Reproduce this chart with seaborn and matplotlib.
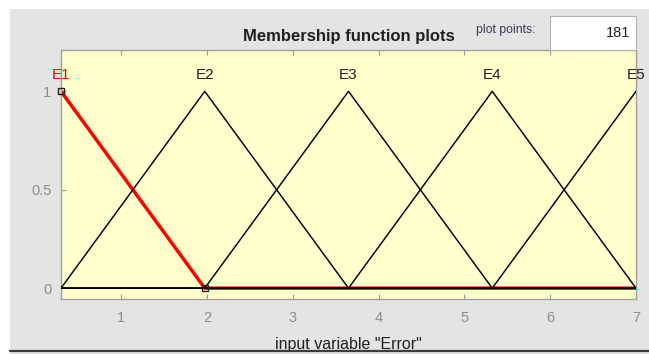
import numpy as np
import pandas as pd
import matplotlib
matplotlib.use("Agg")
import matplotlib.pyplot as plt
from matplotlib.patches import Rectangle
from matplotlib.lines import Line2D
import seaborn as sns

sns.set_theme(style="white")
plt.rcParams["font.family"] = ["Liberation Sans", "DejaVu Sans"]

# Fuzzy input variable "Error": triangular membership functions [a, b, c]
mf_names = ["E1", "E2", "E3", "E4", "E5"]
mf_a = [-1.375, 0.3, 1.975, 3.65, 5.325]
mf_b = [0.3, 1.975, 3.65, 5.325, 7.0]
mf_c = [1.975, 3.65, 5.325, 7.0, 8.675]
x_range = [0.3, 7.0]
plot_points = 181
selected = "E1"

x_ticks = [1, 2, 3, 4, 5, 6, 7]
y_ticks = [0, 0.5, 1]
y_tick_labels = ["0", "0.5", "1"]

xs = np.linspace(x_range[0], x_range[1], plot_points)
frames = []
for name, a, b, c in zip(mf_names, mf_a, mf_b, mf_c):
    left = (xs - a) / (b - a)
    right = (c - xs) / (c - b)
    mu = np.clip(np.minimum(left, right), 0, 1)
    frames.append(pd.DataFrame({"x": xs, "mu": mu, "mf": name}))
df = pd.concat(frames, ignore_index=True)

W, H = 649, 354
fig = plt.figure(figsize=(W / 100, H / 100), dpi=100, facecolor="white")

# panel background
fig.add_artist(Rectangle((10 / W, 0), 1 - 10 / W, (H - 9) / H,
                         transform=fig.transFigure, facecolor="#e4e4e4",
                         edgecolor="none", zorder=0))

ax = fig.add_axes([61 / W, (H - 299) / H, 575 / W, 249 / H])
ax.set_facecolor("#ffffcc")

# selected function underneath, the others on top
sel = df[df["mf"] == selected]
sns.lineplot(data=sel, x="x", y="mu", color="#ff0000", linewidth=2.5,
             ax=ax, zorder=2, legend=False)
others = df[df["mf"] != selected]
sns.lineplot(data=others, x="x", y="mu", units="mf", estimator=None,
             color="black", linewidth=1.05, ax=ax, zorder=3, legend=False)

# vertex markers of the selected function
i = mf_names.index(selected)
vx = [v for v in (mf_a[i], mf_b[i], mf_c[i]) if x_range[0] <= v <= x_range[1]]
vy = [np.clip(min((v - mf_a[i]) / (mf_b[i] - mf_a[i]),
                  (mf_c[i] - v) / (mf_c[i] - mf_b[i])), 0, 1) for v in vx]
ax.plot(vx, vy, linestyle="none", marker="s", markersize=4.5,
        markerfacecolor="none", markeredgecolor="#202020",
        markeredgewidth=1.0, zorder=4, clip_on=False)

for name, b in zip(mf_names, mf_b):
    ax.text(b, 1.085, name, ha="center", va="center", fontsize=11,
            color="#ff0000" if name == selected else "#202020", zorder=5)

ax.set_xlim(*x_range)
ax.set_ylim(-0.055, 1.21)
ax.set_xticks(x_ticks)
ax.set_xticklabels([str(t) for t in x_ticks])
ax.set_yticks(y_ticks)
ax.set_yticklabels(y_tick_labels)
ax.tick_params(axis="both", direction="in", length=3.8, width=0.8,
               color="#9a9a9a", labelcolor="#8c8c8c", labelsize=10.5,
               top=True, bottom=True, left=True, right=False)
ax.tick_params(axis="x", pad=9)
ax.tick_params(axis="y", pad=7)
for s in ax.spines.values():
    s.set_color("#a0a0a0")
    s.set_linewidth(1.0)
ax.set_xlabel("")
ax.set_ylabel("")

# axis caption, partly hidden by the panel divider below
fig.text(348.5 / W, 1 - 349.5 / H, 'input variable "Error"', ha="center",
         va="baseline", fontsize=11.5, color="#202020", zorder=3)

fig.text(349 / W, 1 - 37 / H, "Membership function plots", ha="center",
         va="center", fontsize=12, fontweight="bold", color="#202020")
fig.text(505.5 / W, 1 - 30 / H, "plot points:", ha="center", va="center",
         fontsize=8.8, color="#3a3a5a")
fig.add_artist(Rectangle((550 / W, 1 - 50 / H), 86 / W, 34 / H,
                         transform=fig.transFigure, facecolor="white",
                         edgecolor="#b4b4b4", linewidth=0.8, zorder=1))
fig.text(630 / W, 1 - 33 / H, str(plot_points), ha="right", va="center",
         fontsize=10.5, color="#202020", zorder=2)

# bottom divider of the panel
fig.add_artist(Rectangle((10 / W, 0), 1 - 10 / W, 3 / H,
                         transform=fig.transFigure, facecolor="#e4e4e4",
                         edgecolor="none", zorder=9))
fig.add_artist(Line2D([10 / W, 1], [1 - 350.5 / H, 1 - 350.5 / H],
                      transform=fig.transFigure, color="#3c3c3c",
                      linewidth=1.6, zorder=10))

fig.savefig("out.png", dpi=100, facecolor="white")
